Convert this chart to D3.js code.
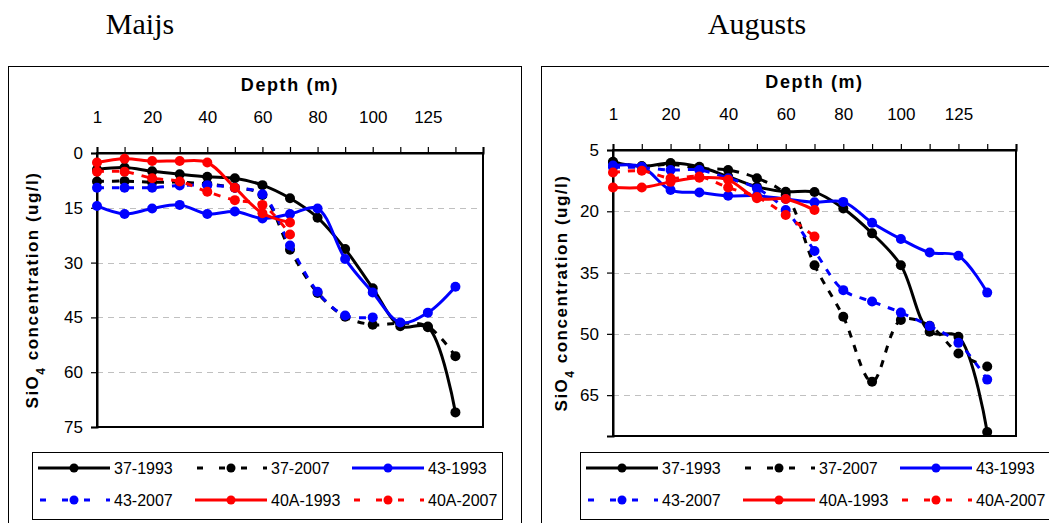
<!DOCTYPE html>
<html>
<head>
<meta charset="utf-8">
<script src="https://cdn.jsdelivr.net/npm/d3@7"></script>
<style>
  html, body { margin: 0; padding: 0; background: #fff; }
  svg { display: block; }
  text { font-family: Arial, "Liberation Sans", sans-serif; }
</style>
</head>
<body>
<svg id="chart" width="1049" height="523"></svg>
<script>
// Sampling depths (categorical axis); only every other depth is labelled
const depths = ["1", "10", "20", "30", "40", "50", "60", "70", "80", "90", "100", "110", "125", "135", "150"];
const depthLabels = ["1", "20", "40", "60", "80", "100", "125"];

const seriesNames = ["37-1993", "37-2007", "43-1993", "43-2007", "40A-1993", "40A-2007"];
const seriesColors = ["#000000", "#000000", "#0000ff", "#0000ff", "#ff0000", "#ff0000"];
const seriesDashed = [false, true, false, true, false, true];

// May (Maijs) SiO4 profiles, ug/l
const mayTicks = [0, 15, 30, 45, 60, 75];
const may37_1993 = [4.5, 4.0, 5.0, 5.8, 6.5, 6.9, 8.8, 12.4, 17.7, 26.3, 37.0, 47.4, 47.7, 71.0, null];
const may37_2007 = [7.8, 7.7, 8.0, 8.0, 8.5, 9.5, 11.5, 26.5, 38.3, 44.8, 47.0, 46.6, 47.5, 55.6, null];
const may43_1993 = [14.5, 16.7, 15.2, 14.2, 16.7, 16.0, 17.9, 16.7, 15.2, 29.0, 38.2, 46.4, 43.7, 36.6, null];
const may43_2007 = [9.5, 9.5, 9.5, 8.9, 8.8, 9.5, 11.3, 25.3, 38.0, 44.5, 45.0, null, null, null, null];
const may40A_1993 = [2.6, 1.6, 2.2, 2.2, 2.6, 9.5, 16.5, 19.0, null, null, null, null, null, null, null];
const may40A_2007 = [5.1, 5.1, 6.9, 7.8, 10.6, 12.9, 14.2, 22.3, null, null, null, null, null, null, null];

// August (Augusts) SiO4 profiles, ug/l
const augTicks = [5, 20, 35, 50, 65];
const aug37_1993 = [7.9, 9.0, 8.2, 9.1, 11.5, 14.0, 15.2, 15.3, 19.3, 25.4, 33.2, 49.5, 50.7, 74.0, null];
const aug37_2007 = [8.0, 9.0, 8.5, 9.5, 9.9, 11.9, 16.0, 33.2, 45.8, 61.7, 46.6, 48.0, 54.8, 58.0, null];
const aug43_1993 = [8.8, 9.1, 14.8, 15.4, 16.2, 16.2, 17.0, 17.8, 17.7, 22.8, 26.8, 30.1, 30.9, 39.9, null];
const aug43_2007 = [9.2, 9.3, 9.9, 9.9, 11.9, 14.4, 19.7, 29.7, 39.3, 42.1, 44.8, 48.1, 52.2, 61.2, null];
const aug40A_1993 = [14.2, 14.2, 12.8, 11.8, 12.3, 16.8, 17.0, 19.7, null, null, null, null, null, null, null];
const aug40A_2007 = [10.5, 10.1, 11.9, 11.5, 14.2, 16.5, 20.9, 26.2, null, null, null, null, null, null, null];

const svg = d3.select("#chart");

function drawPanel(cfg) {
  const g = svg.append("g");

  // outer chart frame
  g.append("rect")
    .attr("x", cfg.frame[0] + 0.5).attr("y", cfg.frame[1] + 0.5)
    .attr("width", cfg.frame[2]).attr("height", cfg.frame[3])
    .attr("fill", "#fff").attr("stroke", "#000").attr("stroke-width", 1);

  // month title above the frame
  g.append("text")
    .attr("x", cfg.titleX).attr("y", 34)
    .attr("text-anchor", "middle")
    .style("font-family", "'Liberation Serif', 'Times New Roman', serif")
    .style("font-size", "30px")
    .text(cfg.title);

  const x = d3.scalePoint().domain(depths).range([cfg.plot.x0, cfg.plot.x1]).padding(0);
  const y = d3.scaleLinear().domain(cfg.yDomain).range([cfg.plot.y0, cfg.plot.y1]);

  // dashed horizontal gridlines
  g.append("g").selectAll("line")
    .data(cfg.yTicks.filter(t => t !== cfg.yDomain[0] && t !== cfg.yDomain[1]))
    .join("line")
    .attr("x1", cfg.plot.x0).attr("x2", cfg.plot.x1)
    .attr("y1", d => Math.round(y(d)) + 0.5).attr("y2", d => Math.round(y(d)) + 0.5)
    .attr("stroke", "#c0c0c0").attr("stroke-width", 1)
    .attr("stroke-dasharray", "6,5");

  // plot area border
  g.append("rect")
    .attr("x", cfg.plot.x0).attr("y", cfg.plot.y0)
    .attr("width", cfg.plot.x1 - cfg.plot.x0).attr("height", cfg.plot.y1 - cfg.plot.y0)
    .attr("fill", "none").attr("stroke", "#000").attr("stroke-width", 2);

  // top category axis: a tick at every depth, labels at every other one
  const topAxis = d3.axisTop(x).tickSize(6).tickPadding(24)
    .tickFormat(d => depthLabels.includes(d) ? d : "");
  const ga = g.append("g").attr("transform", `translate(0,${cfg.plot.y0})`).call(topAxis);
  ga.select(".domain").attr("stroke-width", 2);
  ga.selectAll(".tick line").attr("stroke-width", 1.2);
  ga.selectAll("text").style("font-size", "17px").style("font-family", "Arial, 'Liberation Sans', sans-serif").attr("fill", "#000");

  const leftAxis = d3.axisLeft(y).tickValues(cfg.yTicks).tickSize(6).tickPadding(8);
  const gl = g.append("g").attr("transform", `translate(${cfg.plot.x0},0)`).call(leftAxis);
  gl.select(".domain").attr("stroke-width", 2);
  gl.selectAll(".tick line").attr("stroke-width", 1.2);
  gl.selectAll("text").style("font-size", "17px").style("font-family", "Arial, 'Liberation Sans', sans-serif").attr("fill", "#000");

  // axis titles
  g.append("text")
    .attr("x", (cfg.plot.x0 + cfg.plot.x1) / 2).attr("y", cfg.depthTitleY)
    .attr("text-anchor", "middle")
    .style("font-size", "18px").style("font-weight", "bold").style("letter-spacing", "1.6px")
    .text("Depth (m)");

  const yt = g.append("text")
    .attr("transform", `translate(${cfg.yTitleX},${(cfg.plot.y0 + cfg.plot.y1) / 2}) rotate(-90)`)
    .attr("text-anchor", "middle")
    .style("font-size", "17px").style("font-weight", "bold").style("letter-spacing", "1.5px");
  yt.append("tspan").text("SiO");
  yt.append("tspan").attr("baseline-shift", "sub").style("font-size", "12px").text("4");
  yt.append("tspan").text(" concentration (ug/l)");

  // series lines and markers
  const line = d3.line()
    .defined(d => d.v !== null)
    .x(d => x(d.depth))
    .y(d => y(d.v))
    .curve(d3.curveCatmullRom.alpha(0.5));

  cfg.series.forEach((vals, i) => {
    const pts = vals.map((v, k) => ({ depth: depths[k], v }));
    const sg = g.append("g");
    sg.append("path")
      .attr("d", line(pts))
      .attr("fill", "none")
      .attr("stroke", seriesColors[i])
      .attr("stroke-width", 3)
      .attr("stroke-linejoin", "round")
      .attr("stroke-dasharray", seriesDashed[i] ? "7,8" : null);
    sg.selectAll("circle")
      .data(pts.filter(p => p.v !== null))
      .join("circle")
      .attr("cx", d => x(d.depth)).attr("cy", d => y(d.v))
      .attr("r", 5).attr("fill", seriesColors[i]);
  });

  // legend
  const lg = g.append("g");
  lg.append("rect")
    .attr("x", cfg.legend.x + 0.5).attr("y", cfg.legend.y + 0.5)
    .attr("width", cfg.legend.w).attr("height", cfg.legend.h)
    .attr("fill", "#fff").attr("stroke", "#000").attr("stroke-width", 1);
  seriesNames.forEach((name, i) => {
    const col = i % 3, row = Math.floor(i / 3);
    const lx = cfg.legend.x + 6 + col * 157;
    const ly = cfg.legend.y + 16 + row * 32;
    const e = lg.append("g").attr("transform", `translate(${lx},${ly})`);
    e.append("line")
      .attr("x1", 0).attr("x2", 72).attr("y1", 0).attr("y2", 0)
      .attr("stroke", seriesColors[i]).attr("stroke-width", 3)
      .attr("stroke-dasharray", seriesDashed[i] ? "6,16" : null)
      .attr("stroke-dashoffset", seriesDashed[i] ? -2 : null);
    e.append("circle").attr("cx", 36).attr("cy", 0).attr("r", 4.5).attr("fill", seriesColors[i]);
    e.append("text").attr("x", 76).attr("y", 6)
      .style("font-size", "16px").text(name);
  });
}

drawPanel({
  title: "Maijs", titleX: 140,
  frame: [8, 66, 513, 470],
  plot: { x0: 97, x1: 483, y0: 153, y1: 427 },
  yDomain: [0, 75], yTicks: mayTicks,
  depthTitleY: 91, yTitleX: 38,
  legend: { x: 32, y: 452, w: 470, h: 67 },
  series: [may37_1993, may37_2007, may43_1993, may43_2007, may40A_1993, may40A_2007]
});

drawPanel({
  title: "Augusts", titleX: 757,
  frame: [541, 66, 520, 470],
  plot: { x0: 613, x1: 1016, y0: 150, y1: 436 },
  yDomain: [5, 75], yTicks: augTicks,
  depthTitleY: 88, yTitleX: 567,
  legend: { x: 580, y: 452, w: 475, h: 67 },
  series: [aug37_1993, aug37_2007, aug43_1993, aug43_2007, aug40A_1993, aug40A_2007]
});
</script>
</body>
</html>
